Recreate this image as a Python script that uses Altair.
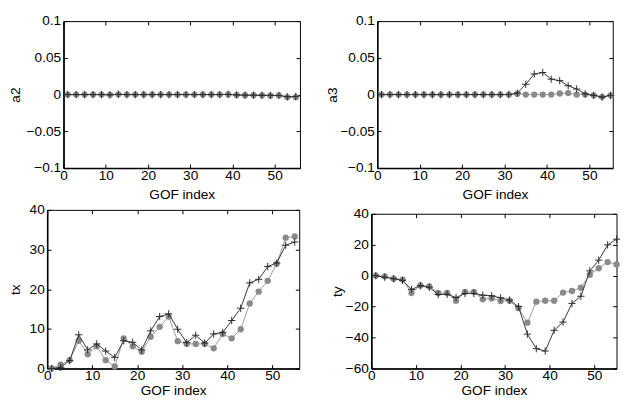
import altair as alt
import pandas as pd

x_idx = list(range(1, 56, 2))  # GOF index 1,3,...,55
x_ticks = [0, 10, 20, 30, 40, 50]

a2_circle = [0, 0, 0, 0, 0, -0.0003, 0.0003, 0, 0, 0, 0, 0, 0, 0,
             0, 0, 0, 0, 0, 0.0002, -0.0005, -0.0008, -0.0008, -0.001,
             -0.0015, -0.0012, -0.0035, -0.0035]
a2_plus = [0, 0, 0, 0, 0, -0.0003, 0.0003, 0, 0, 0, 0, 0, 0, 0,
           0, 0, 0, 0, 0, 0.0002, -0.0005, -0.0008, -0.0008, -0.001,
           -0.001, -0.0012, -0.003, -0.0025]
a3_circle = [0, 0, 0, 0, 0, 0, 0, 0, 0, 0, 0, 0, 0, 0,
             0, 0, 0.001, 0, 0, 0, 0, 0.0015, 0.002, 0,
             0, -0.001, -0.003, -0.001]
a3_plus = [0, 0, 0, 0, 0, 0, 0, 0, 0, 0, 0, 0, 0, 0,
           0, 0, 0.002, 0.014, 0.028, 0.030, 0.021, 0.019, 0.012, 0.0075,
           0.001, -0.001, -0.0035, -0.001]
tx_circle = [0, 1.0, 2.1, 7.0, 3.6, 5.6, 2.1, 0.5, 7.6, 5.6, 4.2, 8.0, 10.5, 13.1,
             6.9, 6.2, 6.2, 6.2, 5.1, 8.7, 7.6, 9.9, 16.4, 19.4, 22.1, 26.4, 33.0, 33.3]
tx_plus = [0, 0.3, 2.0, 8.5, 4.7, 6.2, 4.4, 2.8, 7.0, 6.6, 4.7, 9.5, 13.1, 13.8,
           9.9, 6.5, 8.4, 6.4, 8.7, 9.1, 12.1, 15.2, 21.6, 22.5, 25.7, 26.6, 31.1, 31.9]
ty_circle = [0, -0.5, -2.0, -2.5, -11.2, -6.3, -7.0, -11.2, -11.2, -16.2, -10.5, -10.5, -15.3, -14.7,
             -16.4, -16.2, -21.0, -30.4, -16.8, -16.2, -16.2, -10.9, -9.9, -7.8, 0.6, 4.8, 8.8, 7.3]
ty_plus = [0, -1.0, -2.0, -3.0, -8.9, -6.5, -7.5, -12.2, -12.0, -14.1, -11.5, -11.5, -12.6, -13.0,
           -14.3, -15.8, -20.0, -37.8, -47.2, -48.7, -35.3, -30.0, -17.9, -13.3, 3.1, 10.0, 19.9, 23.6]

PLUS = "M-1,0L1,0M0,-1L0,1"


def panel(c_vals, p_vals, ytitle, ydom, yvals, yfmt, w, h, xmax, tp, xtp, xlp, ghost_pad=None):
    df = pd.DataFrame({"x": x_idx * 2, "v": c_vals + p_vals,
                       "s": ["c"] * len(x_idx) + ["p"] * len(x_idx)})
    xs = alt.Scale(domain=[0, xmax], nice=False, zero=False)
    ys = alt.Scale(domain=ydom, nice=False, zero=False)
    main_x = alt.X("x:Q", scale=xs, axis=alt.Axis(
        orient="bottom", values=x_ticks, format="d", title="GOF index",
        offset=-4, tickSize=4, labelPadding=xlp, titlePadding=xtp,
        domain=False, grid=False, labelFlush=False, labelOverlap=False))
    main_y = alt.Y("v:Q", scale=ys, axis=alt.Axis(
        orient="left", values=yvals, format=yfmt, title=ytitle,
        offset=-4, tickSize=4, labelPadding=3, titlePadding=tp,
        domain=False, grid=False, labelFlush=False, labelOverlap=False))
    base = alt.Chart(df).encode(x=main_x, y=main_y)
    c_line = base.transform_filter("datum.s == 'c'").mark_line(color="#9a9a9a", strokeWidth=1)
    c_pts = base.transform_filter("datum.s == 'c'").mark_circle(color="#8a8a8a", size=42, opacity=1)
    p_line = base.transform_filter("datum.s == 'p'").mark_line(color="#383838", strokeWidth=1)
    p_pts = base.transform_filter("datum.s == 'p'").mark_point(
        shape=PLUS, size=56, filled=False, color="#2a2a2a", strokeWidth=1, opacity=1)
    data_layer = alt.layer(c_line, c_pts, p_line, p_pts)
    if ghost_pad is None:
        right_axis = alt.Axis(orient="right", values=yvals, labels=False, title=None,
                              offset=-4, tickSize=4, domain=False, grid=False)
    else:
        # transparent labels only reserve room for the column centering
        right_axis = alt.Axis(orient="right", values=yvals, format=yfmt, title=None,
                              offset=-4, tickSize=4, domain=False, grid=False,
                              labelColor="transparent", labelPadding=ghost_pad,
                              labelFlush=False, labelOverlap=False)
    mirror = alt.Chart(df).mark_point(opacity=0).encode(
        x=alt.X("x:Q", scale=xs, axis=alt.Axis(
            orient="top", values=x_ticks, labels=False, title=None, offset=-4,
            tickSize=4, domain=False, grid=False)),
        y=alt.Y("v:Q", scale=ys, axis=right_axis))
    dom = alt.Chart(df).mark_point(opacity=0).encode(
        x=alt.X("x:Q", scale=xs, axis=alt.Axis(
            orient="bottom", labels=False, ticks=False, title=None,
            domain=True, domainWidth=1.6, grid=False)),
        y=alt.Y("v:Q", scale=ys, axis=alt.Axis(
            orient="left", labels=False, ticks=False, title=None,
            domain=True, domainWidth=1.6, grid=False)))
    return alt.layer(data_layer, mirror, dom).resolve_axis(
        x="independent", y="independent").properties(width=w, height=h)


small_vals = [-0.1, -0.05, 0, 0.05, 0.1]
tl = panel(a2_circle, a2_plus, "a2", [-0.1, 0.1], small_vals, "~g", 243, 151, 56, 4, 5, 1)
bl = panel(tx_circle, tx_plus, "tx", [0, 40], [0, 10, 20, 30, 40], "d", 259, 163, 56, 7, 2, 0,
           ghost_pad=3.4)
tr = panel(a3_circle, a3_plus, "a3", [-0.1, 0.1], small_vals, "~g", 242, 151, 55.5, 0, 5, 1)
br = panel(ty_circle, ty_plus, "ty", [-60, 40], [-60, -40, -20, 0, 20, 40], "d", 252, 159, 55, 1, 2, 0)

left_col = alt.vconcat(tl, bl, spacing=0, center=True)
right_col = alt.vconcat(tr, br, spacing=4, center=True)

chart = alt.hconcat(left_col, right_col, spacing=7).properties(padding=0).configure_view(
    stroke="black", strokeWidth=1
).configure_axis(
    labelFont="Liberation Sans", labelFontSize=14, labelColor="black",
    titleFont="Liberation Sans", titleFontSize=14, titleFontWeight="normal",
    titleColor="black", tickColor="black", domainColor="black"
)

chart.save("out.html", embed_options={"renderer": "svg", "actions": False})
